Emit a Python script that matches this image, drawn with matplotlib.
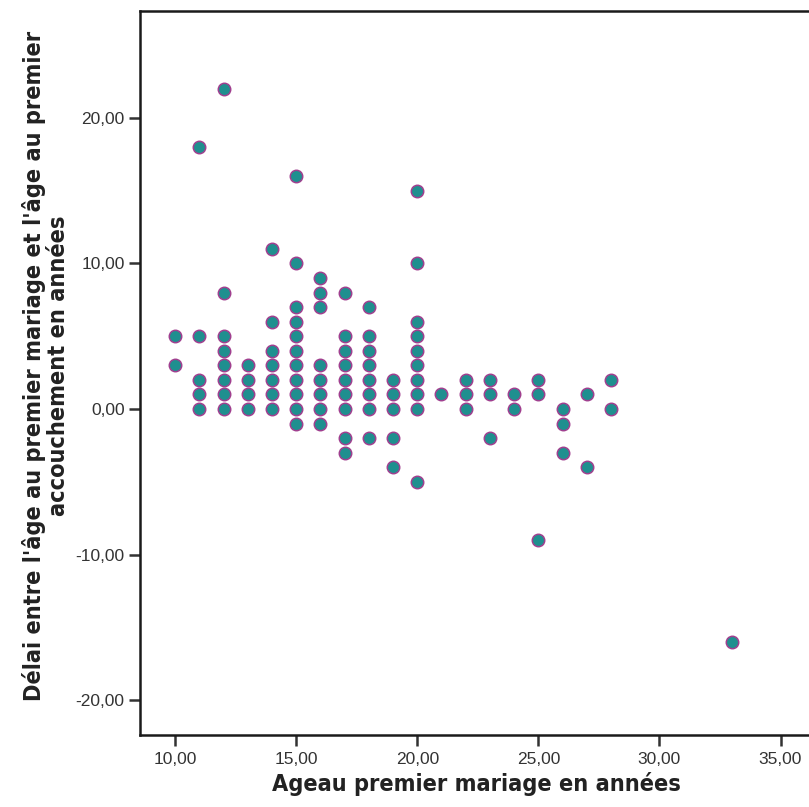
import numpy as np
import matplotlib.pyplot as plt

# age at first marriage -> delays observed at that age
ages = [10, 11, 12, 13, 14, 15, 16, 17, 18, 19, 20, 21, 22, 23, 24, 25, 26, 27, 28, 33]
delays = [
    [5, 3],
    [18, 5, 2, 1, 0],
    [22, 8, 5, 4, 3, 2, 1, 0],
    [3, 2, 1, 0],
    [11, 6, 4, 3, 2, 1, 0],
    [16, 10, 7, 6, 5, 4, 3, 2, 1, 0, -1],
    [9, 8, 7, 3, 2, 1, 0, -1],
    [8, 5, 4, 3, 2, 1, 0, -2, -3],
    [7, 5, 4, 3, 2, 1, 0, -2],
    [2, 1, 0, -2, -4],
    [15, 10, 6, 5, 4, 3, 2, 1, 0, -5],
    [1],
    [2, 1, 0],
    [2, 1, -2],
    [1, 0],
    [2, 1, -9],
    [0, -1, -3],
    [1, -4],
    [2, 0],
    [-16],
]
xticks = [10, 15, 20, 25, 30, 35]
yticks = [-20, -10, 0, 10, 20]

x = np.concatenate([[a] * len(d) for a, d in zip(ages, delays)])
y = np.concatenate(delays)

fig = plt.figure(figsize=(8.09, 8.07), dpi=100)
ax = fig.add_axes([140 / 809, 72 / 807, 672 / 809, 724 / 807])

ax.scatter(x, y, s=80, c='#1f8f8f', edgecolors='#a0408f', linewidths=1.1, zorder=3)

ax.set_xlim(8.55, 36.3)
ax.set_ylim(-22.4, 27.35)
ax.set_xticks(xticks)
ax.set_yticks(yticks)
ax.set_xticklabels(['%d,00' % v for v in xticks])
ax.set_yticklabels(['%d,00' % v for v in yticks])

for s in ax.spines.values():
    s.set_linewidth(1.8)
    s.set_color('#1a1a1a')
ax.tick_params(direction='out', length=8, width=1.8, color='#333333',
               labelsize=12.5, labelcolor='#333333')
ax.tick_params(axis='x', pad=4)
ax.tick_params(axis='y', pad=3)
for lab in ax.get_xticklabels() + ax.get_yticklabels():
    lab.set_family(['Liberation Sans', 'DejaVu Sans'])

lab_font = dict(family='DejaVu Sans', stretch='condensed',
                weight='bold', size=16.8, color='#222222')
ax.set_xlabel('Ageau premier mariage en années', labelpad=4, **lab_font)
ax.set_ylabel("Délai entre l'âge au premier mariage et l'âge au premier\naccouchement en années",
              linespacing=1.05, **lab_font)
ax.yaxis.set_label_coords(70 / 809, 441 / 807, transform=fig.transFigure)

fig.savefig('out.png', dpi=100)
